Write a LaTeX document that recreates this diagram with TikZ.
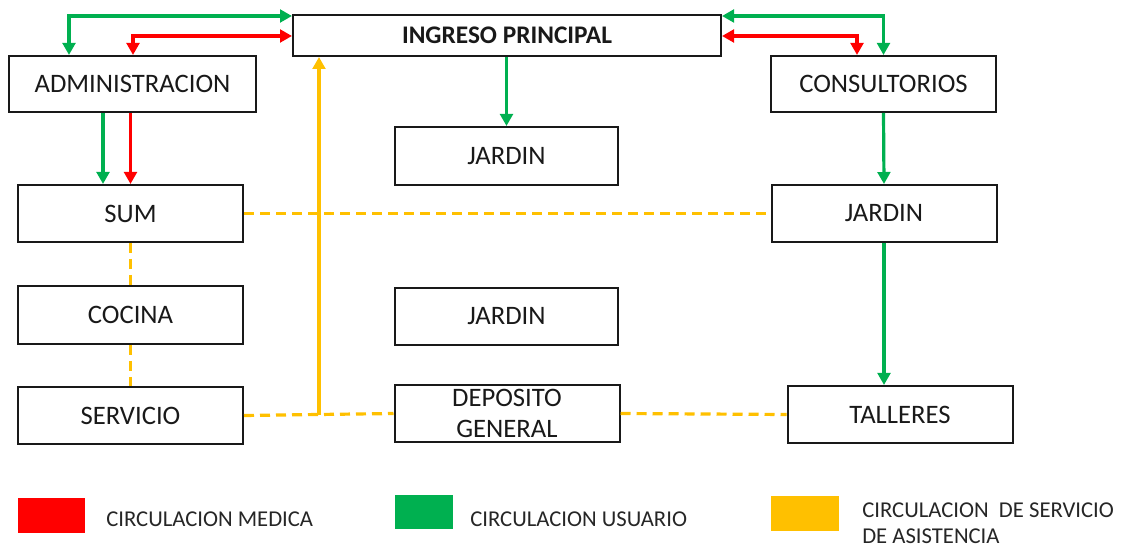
\documentclass[tikz,border=0pt]{standalone}
\usepackage{fontspec}
\setmainfont{Carlito}
\usepackage{tikz}
\usetikzlibrary{arrows.meta}
\definecolor{medred}{HTML}{FF0000}
\definecolor{usrgreen}{HTML}{00B050}
\definecolor{srvyellow}{HTML}{FFC000}

\begin{document}
\begin{tikzpicture}[x=0.75pt,y=-0.75pt,
  >={Triangle[length=9pt,width=9.5pt]},
  box/.style={draw=black!90, line width=1.5pt, minimum width=168.75pt,
    minimum height=42.75pt, inner sep=0pt, text=black!90,
    font=\fontsize{20}{23}\selectfont},
  med/.style={medred, line width=2.4pt},
  usr/.style={usrgreen, line width=2.4pt},
  srv/.style={srvyellow, line width=2.4pt},
  srvdash/.style={srv, dash pattern=on 7.5pt off 4.5pt},
  key/.style={inner sep=0pt, minimum height=26pt},
  keytext/.style={anchor=west, inner sep=0pt, text=black!85, align=left,
    font=\fontsize{17}{19.5}\selectfont}]
\useasboundingbox (0,0) rectangle (1121,548);

\node[box, minimum width=321pt, minimum height=30.75pt,
  font=\fontsize{19}{23}\selectfont\bfseries] (ingreso) at (507,35.5) {INGRESO PRINCIPAL};
\node[box, minimum width=185.25pt, minimum height=42pt] (adm) at (132.5,84) {ADMINISTRACION};
\node[box, minimum height=42pt] (consul) at (883.5,84) {CONSULTORIOS};
\node[box, minimum width=167.25pt, minimum height=43.5pt] (jardinA) at (506.5,156) {JARDIN};
\node[box] (sum) at (130.5,213.5) {SUM};
\node[box] (jardinB) at (884,213.5) {JARDIN};
\node[box, minimum height=43.5pt] (cocina) at (130.5,315) {COCINA};
\node[box, minimum width=167.25pt] (jardinC) at (506.5,316.5) {JARDIN};
\node[box] (servicio) at (130.5,415.5) {SERVICIO};
\node[box, align=center] (deposito) at (507,413.5) {DEPOSITO\\GENERAL};
\node[box] (talleres) at (900,414.5) {TALLERES};

\draw[usr,<->] (ingreso.west |- 0,16) -| (adm.north -| 69,0);
\draw[med,<->] (ingreso.west |- 0,36) -| (adm.north -| 133,0);
\draw[usr,->] (adm.south -| 103,0) -- (sum.north -| 103,0);
\draw[med,->] (adm.south -| sum.north) -- (sum.north);
\draw[usr,<->] (ingreso.east |- 0,16) -| (consul.north);
\draw[med,<->] (ingreso.east |- 0,36) -| (consul.north -| 857,0);
\draw[usr,->] (ingreso.south -| jardinA.north) -- (jardinA.north);
\draw[usr,->] (consul.south) -- (jardinB.north);
\draw[usr,->] (jardinB.south) -- (talleres.north -| jardinB.south);

\draw[srvdash] (sum.east) -- (jardinB.west);
\draw[srvdash] (sum.south) -- (cocina.north);
\draw[srvdash] (cocina.south) -- (servicio.north);
\draw[srvdash] (servicio.east) -- (deposito.west);
\draw[srvdash] (deposito.east) -- (talleres.west);
\draw[srv,->] (servicio.east -| 319,0) -- (ingreso.south -| 319,0);

\node[key, fill=medred, minimum width=50.25pt] (kmed) at (51.5,515.5) {};
\node[keytext] (tmed) at (106,519) {CIRCULACION MEDICA};
\node[key, fill=usrgreen, minimum width=43.5pt, minimum height=25.5pt] (kusr) at (424,512) {};
\node[keytext] (tusr) at (470,519) {CIRCULACION USUARIO};
\node[key, fill=srvyellow, minimum width=51pt] (ksrv) at (805,513.5) {};
\node[keytext] (tsrv) at (862,523) {CIRCULACION \ DE SERVICIO\\DE ASISTENCIA};
\end{tikzpicture}
\end{document}
